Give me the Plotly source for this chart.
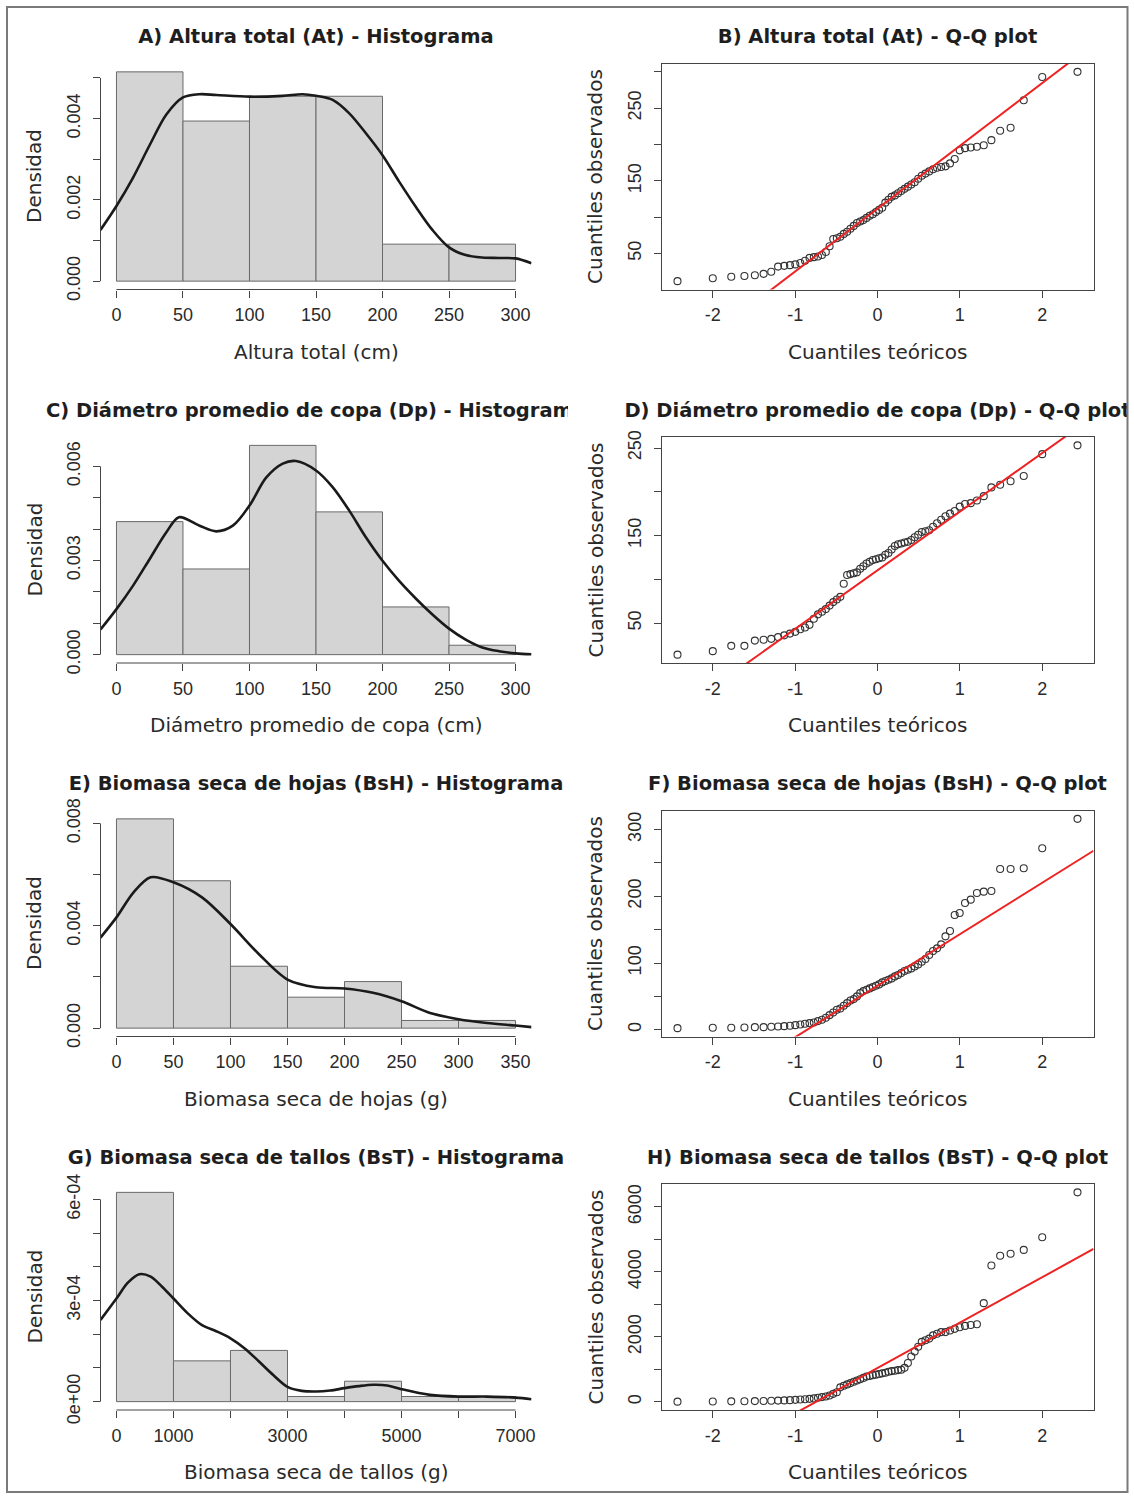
import plotly.graph_objects as go
from statistics import NormalDist

FIG_W, FIG_H = 1134, 1498

# ---------------- Altura total (At) ----------------
at_breaks = [0, 50, 100, 150, 200, 250, 300]
at_density = [0.00515, 0.00394, 0.00455, 0.00455, 0.00091, 0.00091]
at_kde_x = [-12, 0, 12.5, 25, 37.5, 50, 62.5, 75, 100, 125, 140, 150, 162.5, 175,
            187.5, 200, 212.5, 225, 237.5, 250, 262.5, 275, 287.5, 300, 312]
at_kde_y = [0.00126, 0.00185, 0.00255, 0.00335, 0.00410, 0.00452, 0.00460, 0.00458,
            0.00454, 0.00456, 0.00460, 0.00456, 0.00446, 0.00413, 0.00364, 0.00310,
            0.00245, 0.00183, 0.00126, 0.00083, 0.00064, 0.00058, 0.00057, 0.00056, 0.00044]
at_obs = [12, 16, 18, 19, 20, 22, 25, 32, 33, 34, 35, 37, 40, 44, 45, 46, 48,
          52, 60, 70, 71, 73, 77, 80, 84, 88, 92, 94, 96, 99,
          102, 104, 107, 110, 113, 120, 124, 128, 130, 133, 136, 139, 142, 145, 148,
          153, 157, 160, 163, 166, 168, 169, 170, 174, 180, 192, 195, 196, 197, 199,
          206, 219, 223, 261, 293, 300]
at_qqline = [111.7, 86.4]  # intercept, slope

# ---------------- Diámetro promedio de copa (Dp) ----------------
dp_breaks = [0, 50, 100, 150, 200, 250, 300]
dp_density = [0.00424, 0.00273, 0.00667, 0.00455, 0.00152, 0.00030]
dp_kde_x = [-12, 0, 12.5, 25, 37.5, 47, 62.5, 75, 87.5, 100, 112.5, 125, 135, 150,
            162.5, 175, 187.5, 200, 212.5, 225, 237.5, 250, 262.5, 275, 287.5, 300, 312]
dp_kde_y = [0.00080, 0.00145, 0.00220, 0.00305, 0.00390, 0.00438, 0.00411, 0.00393,
            0.00411, 0.00475, 0.00564, 0.00609, 0.00617, 0.00587, 0.00534, 0.00459,
            0.00374, 0.00299, 0.00235, 0.00179, 0.00128, 0.00083, 0.00048, 0.00023,
            0.00011, 0.00004, 0.00001]
dp_obs = [14, 18, 24, 24, 30, 31, 32, 34, 36, 38, 40, 43, 45, 48,
          55, 60, 63, 66, 70, 74, 77, 80, 95,
          105, 106, 107, 108, 112, 115, 118, 120, 122, 123, 124, 125, 128, 130, 134,
          138, 140, 141, 142, 143, 145, 148,
          151, 154, 155, 156, 160, 164, 168, 172, 175, 178, 183, 186, 187, 190, 195,
          205, 208, 212, 218, 243, 253]
dp_qqline = [110.3, 66.95]

# ---------------- Biomasa seca de hojas (BsH) ----------------
bsh_breaks = [0, 50, 100, 150, 200, 250, 300, 350]
bsh_density = [0.00818, 0.00576, 0.00242, 0.00121, 0.00182, 0.00030, 0.00030]
bsh_kde_x = [-14, 0, 15, 30, 50, 75, 100, 125, 150, 175, 200, 225, 250, 275, 300, 325, 350, 364]
bsh_kde_y = [0.00354, 0.00433, 0.00531, 0.00590, 0.00570, 0.00511, 0.00407, 0.00289,
             0.00190, 0.00160, 0.00155, 0.00138, 0.00105, 0.00059, 0.00035, 0.00020,
             0.00010, 0.00004]
bsh_obs = [2.5, 3, 3, 3.5, 4, 4, 4.5, 5, 5.5, 6, 7, 8, 9, 10, 11, 13, 15, 18, 22, 26,
           30, 32, 36, 40, 44, 46, 50,
           55, 58, 60, 62, 64, 66, 68, 71, 73, 75, 77, 80, 82, 85, 88, 90, 92, 95, 98,
           102, 106, 112, 118, 122, 128, 140, 148,
           172, 175, 190, 195,
           205, 207, 208, 241, 241, 242, 272, 316]
bsh_qqline = [66.0, 77.1]

# ---------------- Biomasa seca de tallos (BsT) ----------------
bst_breaks = [0, 1000, 2000, 3000, 4000, 5000, 6000, 7000]
bst_density = [6.21e-4, 1.21e-4, 1.52e-4, 0.152e-4, 0.606e-4, 0.152e-4, 0.152e-4]
bst_kde_x = [-280, 0, 200, 400, 600, 800, 1000, 1250, 1500, 1750, 2000, 2250, 2500,
             2750, 3000, 3250, 3500, 3750, 4000, 4250, 4500, 4750, 5000, 5500, 6000,
             6500, 7000, 7280]
bst_kde_y = [2.42e-4, 3.06e-4, 3.53e-4, 3.78e-4, 3.71e-4, 3.41e-4, 3.06e-4, 2.62e-4,
             2.27e-4, 2.09e-4, 1.88e-4, 1.58e-4, 1.19e-4, 0.79e-4, 0.44e-4, 0.32e-4,
             0.30e-4, 0.33e-4, 0.40e-4, 0.46e-4, 0.50e-4, 0.48e-4, 0.37e-4, 0.20e-4,
             0.15e-4, 0.15e-4, 0.12e-4, 0.07e-4]
bst_obs = [10, 14, 18, 22, 26, 30, 36, 42, 48, 55, 65, 75, 85, 95, 110, 130, 150, 170,
           200, 250, 300, 450, 500, 540, 580, 620, 660, 700, 740, 780, 800, 820, 840,
           860, 880, 900, 930, 950, 960, 980, 990,
           1050, 1200, 1400, 1550, 1700, 1850, 1900, 1950,
           2050, 2100, 2150, 2150, 2200, 2250, 2300, 2340, 2370, 2390,
           3040, 4200, 4500, 4560, 4680, 5070, 6450]
bst_qqline = [1046, 1396]

# ---------------- text ----------------
titles = [
    "A) Altura total (At) - Histograma", "B) Altura total (At) - Q-Q plot",
    "C) Diámetro promedio de copa (Dp) - Histograma", "D) Diámetro promedio de copa (Dp) - Q-Q plot",
    "E) Biomasa seca de hojas (BsH) - Histograma", "F) Biomasa seca de hojas (BsH) - Q-Q plot",
    "G) Biomasa seca de tallos (BsT) - Histograma", "H) Biomasa seca de tallos (BsT) - Q-Q plot",
]
hist_xlabels = ["Altura total (cm)", "Diámetro promedio de copa (cm)",
                "Biomasa seca de hojas (g)", "Biomasa seca de tallos (g)"]
hist_ylabel = "Densidad"
qq_xlabel = "Cuantiles teóricos"
qq_ylabel = "Cuantiles observados"

# tick values / labels (R drops labels that would overlap)
hist_xticks = [
    (at_breaks, [str(v) for v in at_breaks]),
    (dp_breaks, [str(v) for v in dp_breaks]),
    (bsh_breaks, [str(v) for v in bsh_breaks]),
    (bst_breaks, ["0", "1000", "", "3000", "", "5000", "", "7000"]),
]
hist_yticks = [
    ([0, 0.001, 0.002, 0.003, 0.004, 0.005], ["0.000", "", "0.002", "", "0.004", ""]),
    ([0, 0.001, 0.002, 0.003, 0.004, 0.005, 0.006], ["0.000", "", "", "0.003", "", "", "0.006"]),
    ([0, 0.002, 0.004, 0.006, 0.008], ["0.000", "", "0.004", "", "0.008"]),
    ([0, 1e-4, 2e-4, 3e-4, 4e-4, 5e-4, 6e-4], ["0e+00", "", "", "3e-04", "", "", "6e-04"]),
]
qq_xticks = ([-2, -1, 0, 1, 2], ["-2", "-1", "0", "1", "2"])
qq_yticks = [
    ([50, 100, 150, 200, 250, 300], ["50", "", "150", "", "250", ""]),
    ([50, 100, 150, 200, 250], ["50", "", "150", "", "250"]),
    ([0, 50, 100, 150, 200, 250, 300], ["0", "", "100", "", "200", "", "300"]),
    ([0, 1000, 2000, 3000, 4000, 5000, 6000], ["0", "", "2000", "", "4000", "", "6000"]),
]

variables = [
    (at_breaks, at_density, at_kde_x, at_kde_y, at_obs, at_qqline),
    (dp_breaks, dp_density, dp_kde_x, dp_kde_y, dp_obs, dp_qqline),
    (bsh_breaks, bsh_density, bsh_kde_x, bsh_kde_y, bsh_obs, bsh_qqline),
    (bst_breaks, bst_density, bst_kde_x, bst_kde_y, bst_obs, bst_qqline),
]

# ---------------- page geometry (pixels) ----------------
ROW_TOP = [63.5, 437.0, 810.5, 1184.0]
PLOT_H = 226.0
COL_X = [(100.5, 531.5), (661.5, 1093.5)]
AXIS_COL = "#444444"
TEXT_COL = "#2a2a2a"
TICK_FONT = dict(family="Liberation Sans, Arial, sans-serif", size=18, color=TEXT_COL)
LABEL_FONT = dict(family="DejaVu Sans, sans-serif", size=20, color=TEXT_COL)
TITLE_FONT = dict(family="DejaVu Sans, sans-serif", size=19.5, color="#1e1e1e")


def fx(p):
    return p / FIG_W


def fy(p):
    return 1 - p / FIG_H


def padded(lo, hi):
    d = (hi - lo) * 0.04
    return [lo - d, hi + d]


def ppoints(n):
    a = 3 / 8 if n <= 10 else 0.5
    return [(i - a) / (n + 1 - 2 * a) for i in range(1, n + 1)]


fig = go.Figure()
layout = dict(
    template="none",
    width=FIG_W, height=FIG_H, margin=dict(l=0, r=0, t=0, b=0, pad=0),
    paper_bgcolor="white", plot_bgcolor="rgba(0,0,0,0)",
    showlegend=False, shapes=[], annotations=[],
)

for row, (breaks, dens, kx, ky, obs, qql) in enumerate(variables):
    top = ROW_TOP[row]
    bottom = top + PLOT_H
    ydom = [fy(bottom), fy(top)]

    # ---------- histogram (left column) ----------
    k = 2 * row + 1
    xa, ya = ("x", "y") if k == 1 else (f"x{k}", f"y{k}")
    xkey, ykey = ("xaxis", "yaxis") if k == 1 else (f"xaxis{k}", f"yaxis{k}")
    mids = [(a + b) / 2 for a, b in zip(breaks[:-1], breaks[1:])]
    widths = [b - a for a, b in zip(breaks[:-1], breaks[1:])]
    fig.add_trace(go.Bar(
        x=mids, y=dens, width=widths, xaxis=xa, yaxis=ya,
        marker=dict(color="#d4d4d4", line=dict(color="#6a6a6a", width=1)),
    ))
    fig.add_trace(go.Scatter(
        x=kx, y=ky, mode="lines", xaxis=xa, yaxis=ya,
        line=dict(color="#1a1a1a", width=2.6, shape="spline", smoothing=0.9),
    ))
    xr = padded(breaks[0], breaks[-1])
    yr = padded(0, max(dens))
    xtv, xtt = hist_xticks[row]
    ytv, ytt = hist_yticks[row]
    layout[xkey] = dict(
        domain=[fx(COL_X[0][0]), fx(COL_X[0][1])], range=xr, anchor=ya, automargin=False,
        showgrid=False, zeroline=False, showline=False,
        ticks="outside", ticklen=7, tickwidth=1, tickcolor=AXIS_COL,
        tickvals=xtv, ticktext=xtt, tickfont=TICK_FONT, ticklabelstandoff=2,
    )
    layout[ykey] = dict(
        domain=ydom, range=yr, anchor=xa, automargin=False,
        showgrid=False, zeroline=False, showline=False,
        ticks="outside", ticklen=7, tickwidth=1, tickcolor=AXIS_COL,
        tickvals=ytv, ticktext=ytt, tickfont=TICK_FONT, tickangle=-90,
        ticklabelstandoff=5,
    )
    # R-style axis lines running only from the first to the last tick
    layout["shapes"].append(dict(type="line", xref=xa, yref=f"{ya} domain",
                                 x0=xtv[0], x1=xtv[-1], y0=0, y1=0,
                                 line=dict(color=AXIS_COL, width=1)))
    layout["shapes"].append(dict(type="line", xref=f"{xa} domain", yref=ya,
                                 x0=0, x1=0, y0=ytv[0], y1=ytv[-1],
                                 line=dict(color=AXIS_COL, width=1)))
    cx = (COL_X[0][0] + COL_X[0][1]) / 2
    layout["annotations"].append(dict(
        text=hist_xlabels[row], xref="paper", yref="paper", x=fx(cx), y=fy(bottom + 62),
        xanchor="center", yanchor="middle", showarrow=False, font=LABEL_FONT))
    layout["annotations"].append(dict(
        text=hist_ylabel, xref="paper", yref="paper", x=fx(COL_X[0][0] - 66),
        y=fy((top + bottom) / 2), xanchor="center", yanchor="middle",
        textangle=-90, showarrow=False, font=LABEL_FONT))

    # ---------- normal Q-Q plot (right column) ----------
    k = 2 * row + 2
    xa, ya = f"x{k}", f"y{k}"
    xkey, ykey = f"xaxis{k}", f"yaxis{k}"
    nd = NormalDist()
    teo = [nd.inv_cdf(p) for p in ppoints(len(obs))]
    obs_sorted = sorted(obs)
    qxr = padded(min(teo), max(teo))
    qyr = padded(min(obs_sorted), max(obs_sorted))
    fig.add_trace(go.Scatter(
        x=teo, y=obs_sorted, mode="markers", xaxis=xa, yaxis=ya,
        marker=dict(symbol="circle-open", size=7, color="#333333", line=dict(width=1.1)),
    ))
    a, b = qql
    fig.add_trace(go.Scatter(
        x=qxr, y=[a + b * v for v in qxr], mode="lines", xaxis=xa, yaxis=ya,
        line=dict(color="#ee2222", width=2),
    ))
    ytv, ytt = qq_yticks[row]
    layout[xkey] = dict(
        domain=[fx(COL_X[1][0]), fx(COL_X[1][1])], range=qxr, anchor=ya, automargin=False,
        showgrid=False, zeroline=False, showline=True, mirror=True,
        linecolor=AXIS_COL, linewidth=1,
        ticks="outside", ticklen=7, tickwidth=1, tickcolor=AXIS_COL,
        tickvals=qq_xticks[0], ticktext=qq_xticks[1], tickfont=TICK_FONT,
        ticklabelstandoff=2,
    )
    layout[ykey] = dict(
        domain=ydom, range=qyr, anchor=xa, automargin=False,
        showgrid=False, zeroline=False, showline=True, mirror=True,
        linecolor=AXIS_COL, linewidth=1,
        ticks="outside", ticklen=7, tickwidth=1, tickcolor=AXIS_COL,
        tickvals=ytv, ticktext=ytt, tickfont=TICK_FONT, tickangle=-90,
        ticklabelstandoff=5,
    )
    cx = (COL_X[1][0] + COL_X[1][1]) / 2
    layout["annotations"].append(dict(
        text=qq_xlabel, xref="paper", yref="paper", x=fx(cx), y=fy(bottom + 62),
        xanchor="center", yanchor="middle", showarrow=False, font=LABEL_FONT))
    layout["annotations"].append(dict(
        text=qq_ylabel, xref="paper", yref="paper", x=fx(COL_X[1][0] - 66),
        y=fy((top + bottom) / 2), xanchor="center", yanchor="middle",
        textangle=-90, showarrow=False, font=LABEL_FONT))

# ---------- panel titles, clipped to their column like the graphics device ----------
CLIP_COLS = [(0, 568), (568, 1127)]
for c, (c0, c1) in enumerate(CLIP_COLS):
    k = 9 + c
    xa, ya = f"x{k}", f"y{k}"
    layout[f"xaxis{k}"] = dict(domain=[fx(c0), fx(c1)], range=[c0, c1], visible=False,
                               fixedrange=True, automargin=False)
    layout[f"yaxis{k}"] = dict(domain=[0, 1], range=[FIG_H, 0], visible=False,
                               fixedrange=True, anchor=xa, automargin=False)
    cx = (COL_X[c][0] + COL_X[c][1]) / 2
    fig.add_trace(go.Scatter(
        x=[cx] * 4, y=[t - 25 for t in ROW_TOP],
        text=[f"<b>{titles[2 * r + c]}</b>" for r in range(4)],
        mode="text", textposition="middle center", textfont=TITLE_FONT,
        cliponaxis=True, xaxis=xa, yaxis=ya, hoverinfo="skip",
    ))

# outer frame of the figure
layout["shapes"].append(dict(type="rect", xref="paper", yref="paper",
                             x0=fx(7), x1=fx(1127.5), y0=fy(1492), y1=fy(7),
                             line=dict(color="#7a7a7a", width=2)))

fig.update_layout(**layout)
fig.write_html("out.html")
